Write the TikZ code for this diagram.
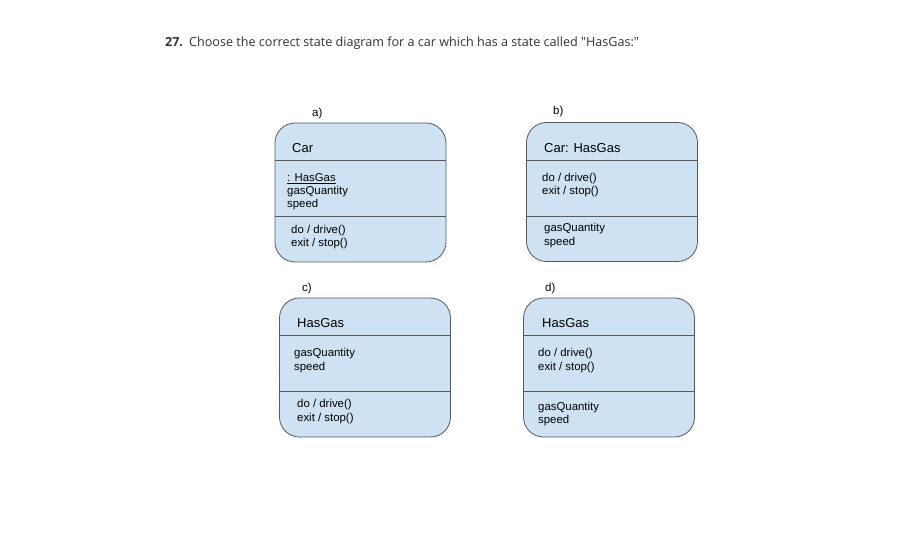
\documentclass[tikz,border=0pt]{standalone}
\usepackage{fontspec}
\setmainfont{Liberation Sans}
\newfontfamily\qfont{Open Sans}
\usetikzlibrary{positioning}
\definecolor{boxfill}{HTML}{CFE2F3}
\definecolor{boxline}{HTML}{595959}
\definecolor{qgray}{HTML}{333333}
\tikzset{
  statebox/.style={draw=boxline, fill=boxfill, rounded corners=20bp, line width=0.8bp,
    minimum width=171bp, minimum height=139bp, inner sep=0pt},
  divider/.style={draw=boxline, line width=0.8bp},
  head/.style={anchor=base west, inner sep=0pt, font=\fontsize{13bp}{15bp}\selectfont},
  body/.style={anchor=base west, inner sep=0pt, font=\fontsize{11.4bp}{13bp}\selectfont},
  tag/.style={anchor=base west, inner sep=0pt, font=\fontsize{11.5bp}{13bp}\selectfont},
  ask/.style={anchor=base west, inner sep=0pt, text=qgray}
}
\begin{document}
\begin{tikzpicture}[x=1bp, y=-1bp]
\path[use as bounding box, fill=white] (0,0) rectangle (919,538);

% question
\node[ask, font=\qfont\bfseries\fontsize{12.5bp}{14bp}\selectfont] (qnum) at (165,47) {27.};
\node[ask, font=\qfont\fontsize{12.6bp}{14bp}\selectfont] (question) at (189,47) {Choose the correct state diagram for a car which has a state called "HasGas:"};

% a)
\node[tag] (taga) at (312,117) {a)};
\node[statebox] (boxa) at (360.5,192.5) {};
\draw[divider] (boxa.west |- 0,160) -- (boxa.east |- 0,160);
\draw[divider] (boxa.west |- 0,216) -- (boxa.east |- 0,216);
\node[head] (namea) at (292,153) {Car};
\node[body] (attra1) at (287,182) {\underline{: HasGas}};
\node[body] (attra2) at (287,195) {gasQuantity};
\node[body] (attra3) at (287,208) {speed};
\node[body] (acta1) at (291,234) {do / drive()};
\node[body] (acta2) at (291,247) {exit / stop()};

% b)
\node[tag] (tagb) at (553,115) {b)};
\node[statebox] (boxb) at (612,192) {};
\draw[divider] (boxb.west |- 0,160) -- (boxb.east |- 0,160);
\draw[divider] (boxb.west |- 0,216) -- (boxb.east |- 0,216);
\node[head] (nameb) at (544,153) {Car: HasGas};
\node[body] (actb1) at (542,182) {do / drive()};
\node[body] (actb2) at (542,195) {exit / stop()};
\node[body] (attrb1) at (544,232) {gasQuantity};
\node[body] (attrb2) at (544,246) {speed};

% c)
\node[tag] (tagc) at (302,292) {c)};
\node[statebox] (boxc) at (365,367.5) {};
\draw[divider] (boxc.west |- 0,335) -- (boxc.east |- 0,335);
\draw[divider] (boxc.west |- 0,391) -- (boxc.east |- 0,391);
\node[head] (namec) at (297,328) {HasGas};
\node[body] (attrc1) at (294,357) {gasQuantity};
\node[body] (attrc2) at (294,370) {speed};
\node[body] (actc1) at (297,407) {do / drive()};
\node[body] (actc2) at (297,421) {exit / stop()};

% d)
\node[tag] (tagd) at (545,292) {d)};
\node[statebox] (boxd) at (609,367.5) {};
\draw[divider] (boxd.west |- 0,335) -- (boxd.east |- 0,335);
\draw[divider] (boxd.west |- 0,391) -- (boxd.east |- 0,391);
\node[head] (named) at (542,328) {HasGas};
\node[body] (actd1) at (538,357) {do / drive()};
\node[body] (actd2) at (538,370) {exit / stop()};
\node[body] (attrd1) at (538,410) {gasQuantity};
\node[body] (attrd2) at (538,423) {speed};

\end{tikzpicture}
\end{document}
